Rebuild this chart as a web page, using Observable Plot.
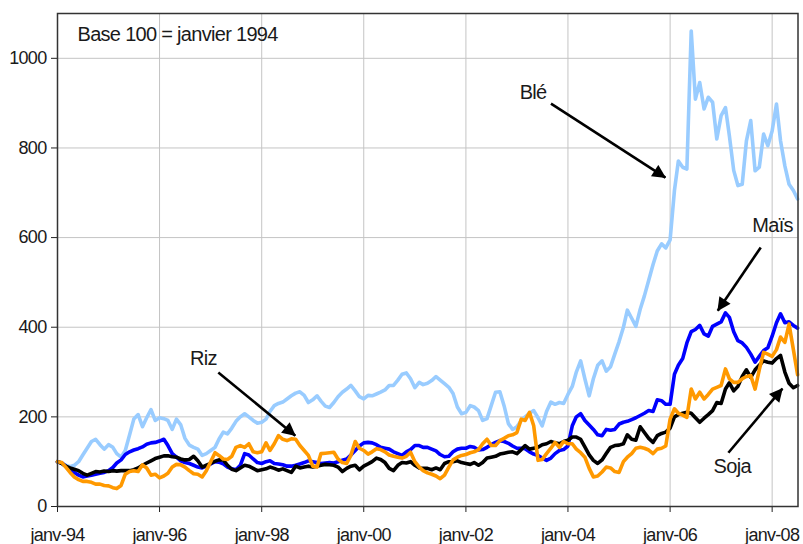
<!DOCTYPE html>
<html>
<head>
<meta charset="utf-8">
<script src="https://cdn.jsdelivr.net/npm/d3@7"></script>
<script src="https://cdn.jsdelivr.net/npm/@observablehq/plot@0.6"></script>
<style>
  html, body { margin: 0; padding: 0; background: #fff; }
  #chart { width: 803px; height: 544px; }
</style>
</head>
<body>
<div id="chart"></div>
<script>
// ---------- DATA (monthly index, base 100 = janvier 1994) ----------
const seriesNames = ["Blé", "Maïs", "Soja", "Riz"];
const seriesColors = ["#99ccff", "#0000ff", "#000000", "#ff9900"];

const ble = [100,97,92,89,92,100,115,130,145,150,138,128,138,132,118,110,125,160,195,205,178,198,216,192,198,196,192,172,195,182,152,137,132,128,114,118,125,132,150,166,162,175,190,200,207,200,192,186,188,195,212,225,230,233,240,247,253,256,248,232,238,247,235,224,221,232,245,255,262,270,258,245,240,248,247,251,255,260,270,270,282,295,298,285,265,277,272,275,281,290,282,274,266,252,222,207,210,225,222,214,192,196,225,255,256,225,185,172,178,192,200,208,214,198,180,212,233,228,232,230,250,268,300,325,285,247,285,315,325,302,312,340,368,400,438,420,402,440,470,505,540,570,586,577,595,705,771,757,753,1061,909,946,887,913,902,820,872,890,827,750,716,719,816,861,749,757,831,805,838,898,816,760,719,705,686];

const mais = [100,97,90,82,76,70,66,68,70,72,74,76,80,87,97,104,116,122,126,129,133,139,142,143,146,150,136,118,110,102,98,96,92,88,86,90,95,100,99,95,88,84,82,92,118,115,106,98,96,100,102,96,95,93,90,90,92,95,98,102,100,98,96,97,98,97,100,103,106,115,125,135,142,143,142,138,132,130,128,122,118,114,122,127,136,136,132,132,128,124,116,111,112,122,128,130,130,134,132,126,127,132,138,143,147,145,141,135,130,130,129,122,117,114,108,103,108,118,125,127,135,180,200,207,192,182,172,160,158,172,170,172,184,188,190,194,198,203,208,214,212,238,236,228,228,295,315,330,365,390,395,404,385,380,402,407,412,432,422,390,370,365,355,340,322,335,348,354,380,410,430,410,412,404,398];

const soja = [100,96,90,86,83,80,74,70,74,78,77,79,78,80,79,80,80,80,82,86,92,97,102,107,110,113,113,111,110,106,104,105,112,102,88,92,96,101,104,104,92,83,80,86,92,90,85,80,82,84,88,85,81,84,80,76,90,86,88,90,88,90,92,94,93,92,88,78,85,90,92,82,90,95,100,108,105,98,85,80,92,98,97,100,92,86,85,85,82,86,82,96,100,100,102,98,96,94,98,92,98,108,110,112,117,119,121,122,118,127,136,128,130,132,138,140,145,142,140,145,148,155,155,150,133,115,103,96,104,118,132,136,137,140,160,150,148,178,165,152,143,158,163,166,175,200,205,208,210,208,198,188,197,205,214,232,230,262,276,258,268,290,305,288,305,315,325,322,320,330,337,300,275,265,270];

const riz = [100,98,88,76,66,60,56,56,54,50,50,47,46,42,40,47,72,78,80,78,93,86,70,72,64,68,74,88,94,93,88,80,73,72,66,80,100,120,114,106,105,112,132,136,132,140,122,120,122,142,125,140,158,150,147,151,150,136,125,114,90,88,118,119,120,121,106,98,96,114,145,130,125,117,122,129,127,122,115,112,110,108,112,121,100,88,80,75,72,68,62,70,88,104,110,114,116,120,122,127,140,150,136,136,147,152,158,160,165,195,192,210,180,103,105,118,130,143,132,145,140,140,128,120,110,85,66,68,77,88,86,78,76,100,110,118,130,132,130,126,118,128,130,135,195,218,208,204,199,262,240,255,240,250,262,266,270,307,285,277,277,285,290,292,262,305,344,340,335,350,378,366,407,350,294];

// Axis ticks and labels
const yTicks = [0, 200, 400, 600, 800, 1000];
const xTickYears = [1994, 1996, 1998, 2000, 2002, 2004, 2006, 2008];
const xTickLabels = ["janv-94", "janv-96", "janv-98", "janv-00", "janv-02", "janv-04", "janv-06", "janv-08"];
const baseNote = "Base 100 = janvier 1994";

// Annotations (month index since janv-94, index value)
const annText = ["Blé", "Maïs", "Riz", "Soja"];
const annMonth = [111.8, 168.1, 34.3, 158.6];
const annValue = [924, 627, 329, 89];
const arrowFromMonth = [116.0, 165.3, 37.8, 157.7];
const arrowFromValue = [899, 578, 299, 120];
const arrowToMonth = [142.9, 155.2, 55.9, 170.4];
const arrowToValue = [734, 437, 158, 263];

// ---------- BUILD ----------
const start = new Date(Date.UTC(1994, 0, 1));
const end = new Date(Date.UTC(2008, 6, 4));
const monthDate = m => new Date(start.getTime() + m * (365.25 / 12) * 864e5);

const seriesValues = [ble, mais, soja, riz];
const rows = [];
seriesNames.forEach((name, k) => {
  seriesValues[k].forEach((v, i) => rows.push({name, date: d3.utcMonth.offset(start, i), value: v}));
});

const xTickDates = xTickYears.map(y => new Date(Date.UTC(y, 0, 1)));
const labelByYear = new Map(xTickYears.map((y, i) => [y, xTickLabels[i]]));

function filledArrow(color, context) {
  const m = document.createElementNS("http://www.w3.org/2000/svg", "marker");
  m.setAttribute("viewBox", "-10 -5 10 10");
  m.setAttribute("markerWidth", "5.6");
  m.setAttribute("markerHeight", "5.2");
  m.setAttribute("markerUnits", "strokeWidth");
  m.setAttribute("orient", "auto");
  m.setAttribute("refX", "-0.5");
  m.setAttribute("fill", color);
  m.setAttribute("stroke", "none");
  const p = document.createElementNS("http://www.w3.org/2000/svg", "path");
  p.setAttribute("d", "M-10,-5L0,0L-10,5Z");
  m.appendChild(p);
  return m;
}

const chart = Plot.plot({
  width: 803,
  height: 544,
  marginLeft: 57,
  marginRight: 5.5,
  marginTop: 13,
  marginBottom: 38,
  style: {
    fontFamily: '"Liberation Sans", Arial, sans-serif',
    fontSize: "18px",
    letterSpacing: "-0.7px",
    color: "#1a1a1a",
    background: "#ffffff",
    overflow: "visible"
  },
  x: {type: "utc", domain: [start, end]},
  y: {domain: [0, 1100]},
  color: {domain: seriesNames, range: seriesColors},
  marks: [
    Plot.gridX(xTickDates, {stroke: "#c4c4c4", strokeOpacity: 1, strokeWidth: 1}),
    Plot.gridY(yTicks.filter(d => d > 0), {stroke: "#c4c4c4", strokeOpacity: 1, strokeWidth: 1}),
    Plot.axisY(yTicks, {tickSize: 6, tickPadding: 5, label: null, stroke: "#222", fontSize: 18,
      tickFormat: d => String(d)}),
    Plot.axisX(xTickDates, {tickSize: 6, tickPadding: 16, label: null, stroke: "#222", fontSize: 18,
      tickFormat: d => labelByYear.get(d.getUTCFullYear())}),
    Plot.lineY(rows, {x: "date", y: "value", z: "name", stroke: "name", strokeWidth: 3.6,
      strokeLinejoin: "round", strokeLinecap: "round"}),
    Plot.frame({stroke: "#333", strokeWidth: 1.5}),
    Plot.text([baseNote], {frameAnchor: "top-left", dx: 20, dy: 13, textAnchor: "start",
      lineAnchor: "top", fontSize: 20, fill: "#1a1a1a"}),
    Plot.text(annText, {x: (d, i) => monthDate(annMonth[i]), y: (d, i) => annValue[i],
      text: d => d, fontSize: 20, fill: "#1a1a1a"}),
    Plot.link(annText, {
      x1: (d, i) => monthDate(arrowFromMonth[i]), y1: (d, i) => arrowFromValue[i],
      x2: (d, i) => monthDate(arrowToMonth[i]), y2: (d, i) => arrowToValue[i],
      stroke: "#000", strokeWidth: 2.6, markerEnd: filledArrow
    })
  ]
});

document.getElementById("chart").appendChild(chart);
</script>
</body>
</html>
